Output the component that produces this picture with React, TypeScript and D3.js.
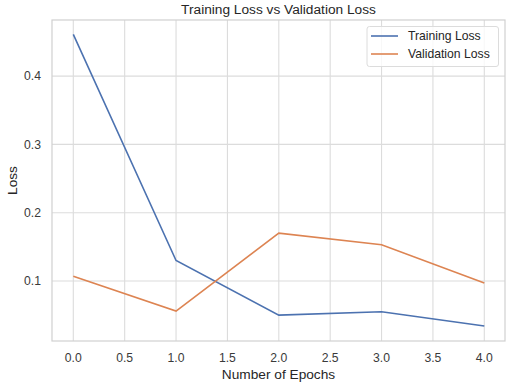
import React from "react";
import * as d3 from "d3";

// values
const epochs = [0, 1, 2, 3, 4];
const trainingLoss = [0.461, 0.130, 0.050, 0.055, 0.034];
const validationLoss = [0.107, 0.056, 0.170, 0.153, 0.097];
const xTicks = [0, 0.5, 1, 1.5, 2, 2.5, 3, 3.5, 4];
const yTicks = [0.1, 0.2, 0.3, 0.4];
const seriesNames = ["Training Loss", "Validation Loss"];
const seriesColors = ["#4c72b0", "#dd8452"];

const W = 511;
const H = 384;
const left = 52;
const right = 505;
const top = 20;
const bottom = 341;
const font = "Arial, 'Liberation Sans', sans-serif";

const App = () => {
  const x = d3.scaleLinear().domain([0, 4]).range([73.3, 484.3]);
  const y = d3.scaleLinear().domain([0, 0.1]).range([349.3, 281]);

  const line = d3
    .line<number>()
    .x((_, i) => x(epochs[i]))
    .y((d) => y(d));

  const series = [trainingLoss, validationLoss];

  return (
    <svg width={W} height={H} style={{ position: "absolute", left: 0, top: 0 }}>
      <rect x={0} y={0} width={W} height={H} fill="#ffffff" />
      {xTicks.map((t) => (
        <line key={"gx" + t} x1={x(t)} x2={x(t)} y1={top} y2={bottom} stroke="#dcdcdc" strokeWidth={1.1} />
      ))}
      {yTicks.map((t) => (
        <line key={"gy" + t} x1={left} x2={right} y1={y(t)} y2={y(t)} stroke="#dcdcdc" strokeWidth={1.1} />
      ))}
      <rect x={left} y={top} width={right - left} height={bottom - top} fill="none" stroke="#d0d0d0" strokeWidth={1.2} />

      {series.map((s, i) => (
        <path key={seriesNames[i]} d={line(s) || ""} fill="none" stroke={seriesColors[i]} strokeWidth={1.6} />
      ))}

      {xTicks.map((t) => (
        <text key={"tx" + t} x={x(t)} y={361.5} textAnchor="middle" fontFamily={font} fontSize={12.2} fill="#3a3a3a">
          {d3.format(".1f")(t)}
        </text>
      ))}
      {yTicks.map((t) => (
        <text key={"ty" + t} x={41} y={y(t) + 4.3} textAnchor="end" fontFamily={font} fontSize={12.2} fill="#3a3a3a">
          {d3.format(".1f")(t)}
        </text>
      ))}

      <text x={278.5} y={14} textAnchor="middle" fontFamily={font} fontSize={13.7} fill="#262626">
        Training Loss vs Validation Loss
      </text>
      <text x={278.5} y={378.5} textAnchor="middle" fontFamily={font} fontSize={13.7} fill="#262626">
        Number of Epochs
      </text>
      <text
        transform={`translate(17,${(top + bottom) / 2}) rotate(-90)`}
        textAnchor="middle"
        fontFamily={font}
        fontSize={13.7}
        fill="#262626"
      >
        Loss
      </text>

      <g>
        <rect x={367} y={26.5} width={131.5} height={40} rx={2.5} fill="#ffffff" fillOpacity={0.8} stroke="#dcdcdc" />
        {seriesNames.map((name, i) => (
          <g key={name} transform={`translate(0,${36 + i * 18})`}>
            <line x1={371} x2={398} y1={0} y2={0} stroke={seriesColors[i]} strokeWidth={1.6} />
            <text x={408} y={4.3} fontFamily={font} fontSize={12.2} fill="#262626">
              {name}
            </text>
          </g>
        ))}
      </g>
    </svg>
  );
};

export default App;
